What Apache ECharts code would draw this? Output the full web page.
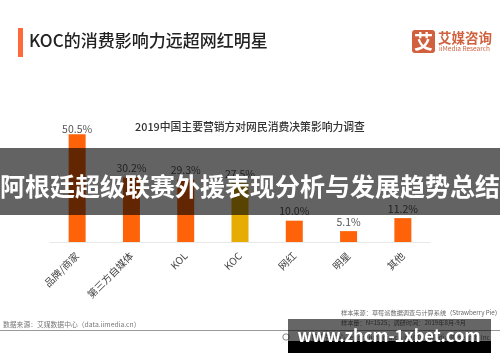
<!DOCTYPE html>
<html>
<head>
<meta charset="utf-8">
<style>
  html, body { margin: 0; padding: 0; background: #fff; }
  #chart { width: 500px; height: 362px; }
</style>
</head>
<body>
<div id="chart"></div>
<script src="https://cdn.jsdelivr.net/npm/echarts@6/dist/echarts.min.js"></script>
<script>
const categories = ["品牌/商家", "第三方自媒体", "KOL", "KOC", "网红", "明星", "其他"];
const values = [50.5, 30.2, 29.3, 27.5, 10.0, 5.1, 11.2];
const highlight = "KOC";

const cjk = '"Noto Sans CJK SC", "Noto Sans", sans-serif';
const chart = echarts.init(document.getElementById("chart"));

chart.setOption({
  backgroundColor: "#fff",
  animation: false,
  textStyle: { fontFamily: cjk },
  grid: { left: 50, top: 114, width: 380, height: 128 },
  xAxis: {
    type: "category",
    data: categories,
    axisLine: { lineStyle: { color: "#e8e8e8", width: 1 } },
    axisTick: { show: false },
    axisLabel: { rotate: 45, interval: 0, fontSize: 10, color: "#444", margin: 12 },
  },
  yAxis: { type: "value", min: 0, max: 60, show: false },
  series: [
    {
      type: "bar",
      barWidth: 17,
      data: values.map((v, i) => ({
        value: v,
        itemStyle: { color: categories[i] === highlight ? "#e6ac00" : "#ff630a" },
        // the first label sits closer to its bar in the original
        label: { distance: i === 0 ? 0 : 4 },
      })),
      label: {
        show: true,
        position: "top",
        fontSize: 10.5,
        color: "#555",
        formatter: (p) => p.value.toFixed(1) + "%",
      },
    },
  ],
  graphic: [
    // header
    { type: "rect", shape: { x: 18, y: 28, width: 5, height: 29 }, style: { fill: "#ff6a3a" } },
    { type: "text", style: { x: 29, y: 41, text: "KOC的消费影响力远超网红明星", font: "500 17px " + cjk, fill: "#222", verticalAlign: "middle" } },
    // logo
    { type: "rect", shape: { x: 412, y: 30, width: 23, height: 23, r: 3 }, style: { fill: "#d0603e" } },
    { type: "text", style: { x: 423.5, y: 41.5, text: "艾", font: "bold 19px " + cjk, fill: "#fff", align: "center", verticalAlign: "middle" } },
    { type: "text", style: { x: 438, y: 38, text: "艾媒咨询", font: "bold 13.5px " + cjk, fill: "#d0603e", verticalAlign: "middle" } },
    { type: "text", style: { x: 439, y: 49, text: "iiMedia Research", font: "6.5px " + cjk, fill: "#d0603e", verticalAlign: "middle" } },
    // chart title
    { type: "text", style: { x: 250, y: 127, text: "2019中国主要营销方对网民消费决策影响力调查", font: "500 10.8px " + cjk, fill: "#333", align: "center", verticalAlign: "middle" } },
    // footer
    { type: "text", style: { x: 3, y: 324, text: "数据来源：艾媒数据中心（data.iimedia.cn）", font: "6.8px " + cjk, fill: "#777", verticalAlign: "middle" } },
    { type: "text", style: { x: 341, y: 313, text: "样本来源：草莓派数据调查与计算系统（Strawberry Pie）", font: "6.2px " + cjk, fill: "#666", verticalAlign: "middle" } },
    { type: "text", style: { x: 341, y: 323, text: "样本量：N=1525；调研时间：2019年8月-9月", font: "6.2px " + cjk, fill: "#666", verticalAlign: "middle" } },
    { type: "rect", shape: { x: 0, y: 330, width: 500, height: 1 }, style: { fill: "#999" } },
    { type: "circle", shape: { cx: 286, cy: 337, r: 3.2 }, style: { fill: "none", stroke: "#888", lineWidth: 1 } },
    { type: "text", style: { x: 490, y: 337, text: "艾媒报告中心 report.iimedia.cn ©2019 iiMedia Research Inc", font: "6.8px " + cjk, fill: "#777", align: "right", verticalAlign: "middle" } },
    // overlay band + title
    { type: "rect", z: 100, shape: { x: 0, y: 148, width: 500, height: 67 }, style: { fill: "rgba(0,0,0,0.61)" } },
    { type: "text", z: 101, style: { x: 250, y: 186, text: "阿根廷超级联赛外援表现分析与发展趋势总结", font: "bold 25px " + cjk, fill: "#fff", align: "center", verticalAlign: "middle" } },
    // watermark
    { type: "rect", z: 100, shape: { x: 288, y: 319, width: 203, height: 22 }, style: { fill: "rgba(0,0,0,0.6)" } },
    { type: "rect", z: 100, shape: { x: 288, y: 341, width: 203, height: 12 }, style: { fill: "#000" } },
    { type: "text", z: 101, style: { x: 389, y: 336, text: "www.zhcm-1xbet.com", font: "bold 16.6px " + cjk, fill: "#fff", align: "center", verticalAlign: "middle" } },
  ],
});
</script>
</body>
</html>
